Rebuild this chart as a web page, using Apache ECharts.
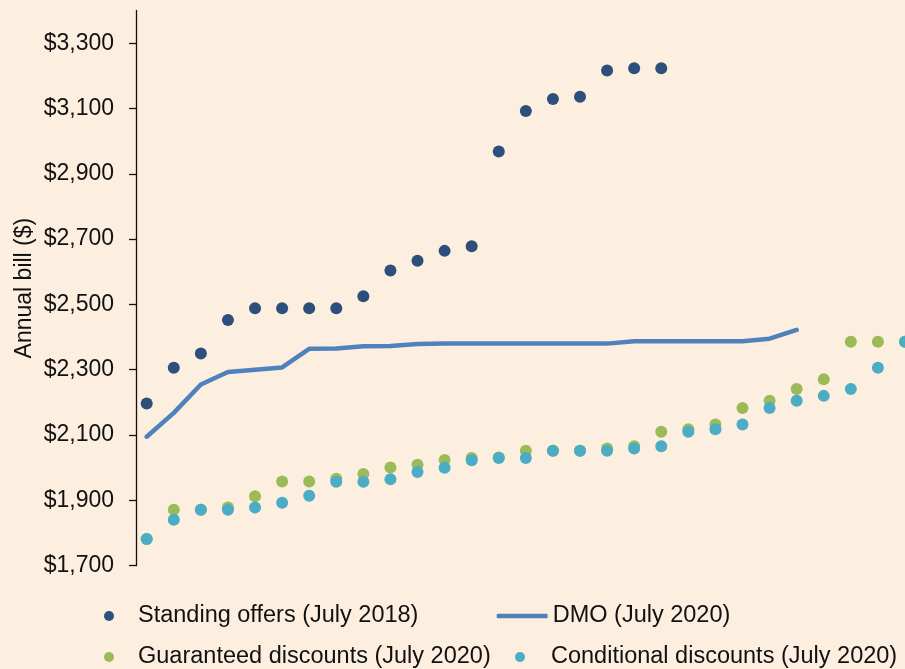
<!DOCTYPE html>
<html>
<head>
<meta charset="utf-8">
<script src="https://cdn.jsdelivr.net/npm/echarts@6/dist/echarts.min.js"></script>
<style>
  html, body { margin: 0; padding: 0; background: #fcefdf; }
  #chart { width: 905px; height: 669px; }
</style>
</head>
<body>
<div id="chart"></div>
<script>
// plan index along the x axis (no labels shown on the original)
const categories = ['1', '2', '3', '4', '5', '6', '7', '8', '9', '10',
  '11', '12', '13', '14', '15', '16', '17', '18', '19', '20',
  '21', '22', '23', '24', '25', '26', '27', '28', '29']

const standingOffers = [2197, 2306, 2350, 2452, 2488, 2488, 2488, 2488, 2525, 2604,
  2634, 2664, 2678, 2968, 3092, 3129, 3136, 3216, 3223, 3223]

const dmo = [2095, 2168, 2255, 2293, 2300, 2307, 2364, 2365, 2372, 2373,
  2379, 2380, 2380, 2380, 2380, 2380, 2380, 2380, 2387, 2387,
  2387, 2387, 2387, 2395, 2422]

const guaranteed = [1782, 1871, 1871, 1878, 1913, 1958, 1958, 1966, 1981, 2001,
  2009, 2024, 2030, 2031, 2052, 2052, 2052, 2059, 2066, 2110,
  2118, 2132, 2183, 2205, 2241, 2271, 2386, 2386, 2386]

const conditional = [1782, 1841, 1871, 1871, 1878, 1893, 1914, 1957, 1957, 1965,
  1987, 2000, 2023, 2030, 2030, 2052, 2052, 2052, 2059, 2066,
  2110, 2118, 2132, 2183, 2205, 2220, 2241, 2306, 2386]

const yTicks = [1700, 1900, 2100, 2300, 2500, 2700, 2900, 3100, 3300]

const names = {
  standing: 'Standing offers (July 2018)',
  dmo: 'DMO (July 2020)',
  guaranteed: 'Guaranteed discounts (July 2020)',
  conditional: 'Conditional discounts (July 2020)'
}

const font = "'Liberation Sans', Arial, sans-serif"

function legendText (padLeft) {
  return { fontFamily: font, fontSize: 23.5, color: '#111', padding: [0, 0, 0, padLeft] }
}

const chart = echarts.init(document.getElementById('chart'))

chart.setOption({
  animation: false,
  backgroundColor: '#fcefdf',
  grid: {
    left: 146.7,
    right: -5,
    top: 10.5,
    bottom: 103.3
  },
  legend: [
    {
      data: [{ name: names.standing, icon: 'circle' }], left: 104, top: 604, padding: 0,
      itemWidth: 10, itemHeight: 10, textStyle: legendText(19), selectedMode: false
    },
    {
      data: [{ name: names.dmo, icon: 'roundRect' }], left: 496.7, top: 604, padding: 0,
      itemWidth: 51, itemHeight: 4.5, textStyle: legendText(0), selectedMode: false
    },
    {
      data: [{ name: names.guaranteed, icon: 'circle' }], left: 104, top: 645, padding: 0,
      itemWidth: 10, itemHeight: 10, textStyle: legendText(19), selectedMode: false
    },
    {
      data: [{ name: names.conditional, icon: 'circle' }], left: 515, top: 645, padding: 0,
      itemWidth: 10, itemHeight: 10, textStyle: legendText(21), selectedMode: false
    }
  ],
  xAxis: {
    type: 'category',
    data: categories,
    boundaryGap: false,
    axisLine: { show: false },
    axisTick: { show: false },
    axisLabel: { show: false },
    splitLine: { show: false }
  },
  yAxis: {
    type: 'value',
    min: 1700,
    max: 3400,
    offset: 10.7,
    name: 'Annual bill ($)',
    nameLocation: 'middle',
    nameGap: 100,
    nameMoveOverlap: false,
    nameTextStyle: { fontFamily: font, fontSize: 23, color: '#111' },
    axisLine: { show: true, lineStyle: { color: '#111', width: 1.3 } },
    axisTick: {
      show: true,
      length: 7,
      customValues: yTicks,
      lineStyle: { color: '#111', width: 1.3 }
    },
    axisLabel: {
      customValues: yTicks,
      margin: 22,
      fontFamily: font,
      fontSize: 23,
      color: '#111',
      formatter: (v) => '$' + v.toLocaleString('en-US')
    },
    splitLine: { show: false }
  },
  series: [
    {
      name: names.standing,
      type: 'scatter',
      data: standingOffers,
      symbol: 'circle',
      symbolSize: 12,
      itemStyle: { color: '#2c4f7c', opacity: 1 }
    },
    {
      name: names.dmo,
      type: 'line',
      data: dmo,
      symbol: 'none',
      lineStyle: { color: '#4f81bd', width: 4.5, cap: 'round', join: 'round' },
      itemStyle: { color: '#4f81bd' }
    },
    {
      name: names.guaranteed,
      type: 'scatter',
      data: guaranteed,
      symbol: 'circle',
      symbolSize: 12,
      itemStyle: { color: '#9bbb59', opacity: 1 }
    },
    {
      name: names.conditional,
      type: 'scatter',
      data: conditional,
      symbol: 'circle',
      symbolSize: 12,
      itemStyle: { color: '#4bacc6', opacity: 1 }
    }
  ]
})
</script>
</body>
</html>
